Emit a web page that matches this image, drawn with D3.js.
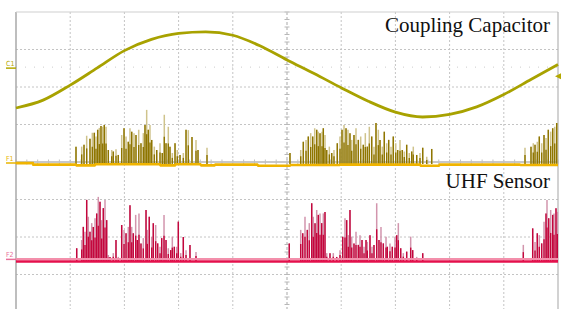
<!DOCTYPE html>
<html>
<head>
<meta charset="utf-8">
<script src="https://cdn.jsdelivr.net/npm/d3@7"></script>
<style>
  body { margin: 0; background: #fff; }
  svg { display: block; }
</style>
</head>
<body>
<div id="chart"></div>
<script>
// time axis in divisions (10 div across), voltage in divisions (8 div tall, 0 = centre)
const sineTime = [0, 0.5, 1, 1.5, 2, 2.5, 3, 3.5, 4, 4.5, 5, 5.5, 6, 6.5, 7, 7.5, 8, 8.5, 9, 9.5, 10];
const sineLevel = [1.44, 1.65, 2.05, 2.51, 2.97, 3.27, 3.43, 3.47, 3.38, 3.10, 2.72, 2.36, 1.98, 1.62, 1.33, 1.20, 1.27, 1.47, 1.80, 2.20, 2.60];

// F1 trace baseline (coupling capacitor PD channel)
const f1Baseline = [
    [0, -0.03], [0.31, -0.03], [0.32, -0.07], [1.1, -0.07], [1.12, -0.09], [1.45, -0.09], [1.47, -0.06],
    [2.65, -0.06], [2.67, -0.09], [2.93, -0.09], [2.95, -0.06], [3.4, -0.06], [3.42, -0.09], [3.66, -0.09],
    [3.68, -0.07], [4.45, -0.07], [4.47, -0.10], [5.05, -0.10], [5.07, -0.08], [5.97, -0.08], [5.99, -0.07],
    [7.45, -0.07], [7.47, -0.10], [7.8, -0.10], [7.82, -0.07], [9.29, -0.07], [9.31, -0.08], [10, -0.08]
];
const f1Level = -0.05;

// [time, amplitude] pulses on F1
const f1Pulses = [
    [1.107, 0.46], [1.212, 0.46], [1.255, 0.51], [1.304, 0.75], [1.365, 0.67], [1.408, 0.83], [1.445, 0.83],
    [1.476, 0.73], [1.507, 0.91], [1.537, 0.96], [1.568, 1.01], [1.600, 0.99], [1.629, 1.04], [1.661, 0.99],
    [1.703, 0.37], [1.766, 0.37], [1.795, 0.33], [1.845, 0.39], [1.887, 0.24], [1.950, 0.77], [1.993, 0.95],
    [2.030, 0.73], [2.072, 0.59], [2.103, 0.95], [2.135, 0.86], [2.177, 0.82], [2.214, 0.77], [2.264, 0.91],
    [2.306, 0.55], [2.349, 0.82], [2.380, 1.04], [2.411, 1.44], [2.441, 0.91], [2.472, 1.04], [2.504, 0.64],
    [2.552, 0.46], [2.596, 0.37], [2.657, 0.55], [2.699, 0.29], [2.736, 1.31], [2.768, 0.55], [2.810, 0.99],
    [2.841, 0.46], [2.884, 0.29], [2.934, 0.55], [2.976, 0.37], [3.026, 0.24], [3.087, 0.29], [3.137, 0.91],
    [3.179, 0.90], [3.247, 0.72], [3.321, 0.64], [3.358, 0.37], [3.524, 0.43],
    [5.055, 0.29], [5.253, 0.37], [5.301, 0.59], [5.351, 0.64], [5.393, 0.73], [5.437, 0.82], [5.474, 0.73],
    [5.511, 0.95], [5.548, 0.91], [5.578, 0.86], [5.609, 0.82], [5.646, 0.86], [5.670, 0.95], [5.701, 0.77],
    [5.733, 0.37], [5.781, 0.46], [5.825, 0.29], [5.867, 0.37], [5.928, 0.55], [5.978, 0.73], [6.015, 0.91],
    [6.052, 1.04], [6.089, 0.95], [6.125, 0.91], [6.162, 0.82], [6.194, 0.64], [6.236, 0.77], [6.273, 0.95],
    [6.316, 0.64], [6.360, 0.73], [6.408, 0.51], [6.445, 0.82], [6.482, 0.46], [6.519, 0.99], [6.563, 0.73],
    [6.605, 0.46], [6.642, 1.09], [6.685, 0.91], [6.716, 0.64], [6.758, 0.46], [6.795, 0.86], [6.839, 0.55],
    [6.876, 0.64], [6.919, 0.46], [6.961, 0.73], [7.006, 0.55], [7.042, 0.37], [7.085, 0.64], [7.127, 0.37],
    [7.164, 0.33], [7.208, 0.51], [7.256, 0.29], [7.301, 0.33], [7.330, 0.46], [7.393, 0.24], [7.454, 0.29],
    [7.504, 0.43], [7.578, 0.19], [7.670, 0.40],
    [9.391, 0.43], [9.502, 0.46], [9.544, 0.55], [9.576, 0.51], [9.618, 0.59], [9.655, 0.73], [9.699, 0.55],
    [9.742, 0.77], [9.779, 0.69], [9.821, 0.91], [9.865, 0.86], [9.902, 0.95], [9.939, 0.99], [9.976, 1.09]
];

// F2 trace (UHF sensor)
const f2Level = -2.64;
const f2Pulses = [
    [1.120, 0.34], [1.212, 0.56], [1.242, 0.91], [1.273, 0.78], [1.304, 1.63], [1.334, 1.18], [1.365, 0.78],
    [1.397, 1.01], [1.426, 0.91], [1.458, 1.14], [1.489, 1.27], [1.518, 1.71], [1.550, 1.58], [1.581, 1.09],
    [1.611, 1.41], [1.642, 1.63], [1.673, 1.09], [1.703, 0.16], [1.734, 0.11], [1.795, 0.21], [1.845, 0.56],
    [1.887, 0.11], [1.950, 0.96], [1.993, 0.83], [2.030, 0.74], [2.072, 0.91], [2.103, 1.49], [2.135, 0.91],
    [2.164, 0.74], [2.208, 1.23], [2.238, 0.56], [2.269, 1.27], [2.306, 0.47], [2.349, 0.61], [2.399, 1.36],
    [2.423, 0.83], [2.459, 1.18], [2.504, 0.65], [2.533, 1.01], [2.577, 0.96], [2.614, 0.47], [2.657, 0.38],
    [2.688, 0.61], [2.731, 1.23], [2.768, 0.56], [2.810, 0.34], [2.854, 0.29], [2.884, 0.65], [2.921, 0.38],
    [2.965, 0.38], [2.995, 1.05], [3.039, 0.21], [3.087, 0.64], [3.137, 0.29], [3.210, 0.43], [3.321, 0.24],
    [5.042, 0.47], [5.253, 0.83], [5.290, 0.74], [5.332, 1.18], [5.375, 0.83], [5.411, 1.01], [5.456, 1.54],
    [5.485, 1.18], [5.517, 1.01], [5.548, 1.36], [5.578, 1.23], [5.609, 1.27], [5.640, 1.01], [5.670, 1.27],
    [5.701, 1.31], [5.733, 0.21], [5.793, 0.21], [5.854, 0.21], [5.917, 0.11], [5.978, 0.29], [6.028, 0.65],
    [6.070, 1.14], [6.101, 1.09], [6.131, 0.69], [6.162, 1.36], [6.194, 0.65], [6.236, 0.47], [6.273, 0.78],
    [6.316, 0.43], [6.347, 0.69], [6.384, 0.56], [6.421, 0.38], [6.458, 0.56], [6.482, 0.51], [6.531, 0.69],
    [6.568, 0.38], [6.605, 0.43], [6.655, 1.54], [6.697, 0.56], [6.734, 0.91], [6.777, 0.47], [6.827, 0.65],
    [6.851, 0.38], [6.900, 0.47], [6.943, 0.38], [6.993, 0.65], [7.024, 0.69], [7.054, 1.01], [7.098, 0.34],
    [7.146, 0.21], [7.208, 0.25], [7.282, 0.65], [7.319, 0.29], [7.393, 0.11], [7.504, 0.21],
    [9.360, 0.43], [9.533, 0.87], [9.576, 0.51], [9.618, 0.74], [9.655, 0.69], [9.699, 0.47], [9.742, 1.05],
    [9.779, 1.27], [9.797, 1.63], [9.828, 1.14], [9.865, 1.36], [9.902, 1.23], [9.926, 1.27], [9.963, 1.41],
    [9.987, 1.31]
];

const channelLabels = [
    { name: "C1", level: 2.53, color: "#b4a800" },
    { name: "F1", level: 0.0, color: "#e8b400" },
    { name: "F2", level: -2.57, color: "#e8709a" }
];
const titles = [
    { text: "Coupling Capacitor", level: 3.47 },
    { text: "UHF Sensor", level: -0.69 }
];

const W = 562, H = 309;
const margin = { top: 12, left: 16 };
const plotW = 542, plotH = 300;

const svg = d3.select("#chart").append("svg")
    .attr("width", W)
    .attr("height", H);

const x = d3.scaleLinear().domain([0, 10]).range([margin.left, margin.left + plotW]);
const y = d3.scaleLinear().domain([-4, 4]).range([margin.top + plotH, margin.top]);

// grid
const grid = svg.append("g").attr("class", "grid");
grid.selectAll(".vg")
    .data(d3.range(1, 10).filter(d => d !== 5))
    .join("line")
    .attr("x1", d => x(d)).attr("x2", d => x(d))
    .attr("y1", y(4)).attr("y2", y(-4))
    .attr("stroke", "#c4c4c4")
    .attr("stroke-width", 1)
    .attr("stroke-dasharray", "2,2");
grid.selectAll(".hg")
    .data(d3.range(-3, 4).filter(d => d !== 0))
    .join("line")
    .attr("x1", x(0)).attr("x2", x(10))
    .attr("y1", d => y(d)).attr("y2", d => y(d))
    .attr("stroke", "#c4c4c4")
    .attr("stroke-width", 1)
    .attr("stroke-dasharray", "2,2");

// centre axes with minor ticks
grid.append("line")
    .attr("x1", x(5)).attr("x2", x(5))
    .attr("y1", y(4)).attr("y2", y(-4))
    .attr("stroke", "#b8b8b8")
    .attr("stroke-width", 1.2)
    .attr("stroke-dasharray", "3,2");
grid.selectAll(".vt")
    .data(d3.range(-4, 4.01, 0.2))
    .join("line")
    .attr("x1", x(5) - 2.5).attr("x2", x(5) + 2.5)
    .attr("y1", d => y(d)).attr("y2", d => y(d))
    .attr("stroke", "#b8b8b8");
grid.append("line")
    .attr("x1", x(0)).attr("x2", x(10))
    .attr("y1", y(0)).attr("y2", y(0))
    .attr("stroke", "#c8c8c8")
    .attr("stroke-width", 2);
grid.selectAll(".ht")
    .data(d3.range(0, 10.01, 0.2))
    .join("line")
    .attr("x1", d => x(d)).attr("x2", d => x(d))
    .attr("y1", y(0) - 2.5).attr("y2", y(0) + 2.5)
    .attr("stroke", "#c0c0c0");

// C1 level dotted line
grid.append("line")
    .attr("x1", x(0)).attr("x2", x(10))
    .attr("y1", y(2.53)).attr("y2", y(2.53))
    .attr("stroke", "#cccccc")
    .attr("stroke-dasharray", "1,8");

// frame
svg.append("line").attr("x1", x(0)).attr("x2", x(0)).attr("y1", y(4)).attr("y2", H)
    .attr("stroke", "#a8a8a8").attr("stroke-width", 1.5);
svg.append("line").attr("x1", x(0)).attr("x2", x(10)).attr("y1", y(4)).attr("y2", y(4))
    .attr("stroke", "#cfcfcf");
svg.append("line").attr("x1", x(10)).attr("x2", x(10)).attr("y1", y(4)).attr("y2", H)
    .attr("stroke", "#b4b4b4").attr("stroke-width", 1.2);

// pulses
function drawPulses(data, level, light, dark) {
    const g = svg.append("g");
    g.selectAll(".light")
        .data(data)
        .join("line")
        .attr("x1", d => x(d[0])).attr("x2", d => x(d[0]))
        .attr("y1", y(level)).attr("y2", d => y(level + d[1]))
        .attr("stroke", light)
        .attr("stroke-width", 1.5);
    g.selectAll(".dark")
        .data(data)
        .join("line")
        .attr("x1", d => x(d[0])).attr("x2", d => x(d[0]))
        .attr("y1", y(level)).attr("y2", (d, i) => y(level + (i % 2 === 0 ? d[1] : d[1] * 0.55)))
        .attr("stroke", dark)
        .attr("stroke-width", 1.4);
}

drawPulses(f1Pulses, f1Level, "#cfc38c", "#8e7500");
drawPulses(f2Pulses, f2Level, "#d295ad", "#c4063c");

// F1 baseline trace
svg.append("path")
    .datum(f1Baseline)
    .attr("fill", "none")
    .attr("stroke", "#f0b400")
    .attr("stroke-width", 2.6)
    .attr("d", d3.line().x(d => x(d[0])).y(d => y(d[1])));

// F2 baseline trace
svg.append("line")
    .attr("x1", x(0)).attr("x2", x(10))
    .attr("y1", y(f2Level) - 2).attr("y2", y(f2Level) - 2)
    .attr("stroke", "#f38fab").attr("stroke-width", 2);
svg.append("line")
    .attr("x1", x(0)).attr("x2", x(10))
    .attr("y1", y(f2Level) + 0.5).attr("y2", y(f2Level) + 0.5)
    .attr("stroke", "#e4104c").attr("stroke-width", 2.6);

// sine trace
svg.append("path")
    .datum(sineTime.map((t, i) => [t, sineLevel[i]]))
    .attr("fill", "none")
    .attr("stroke", "#a8a200")
    .attr("stroke-width", 2.8)
    .attr("d", d3.line().x(d => x(d[0])).y(d => y(d[1])).curve(d3.curveMonotoneX));

// channel markers on the left
const marks = svg.append("g");
channelLabels.forEach(c => {
    marks.append("text")
        .attr("x", 6).attr("y", y(c.level) - 1)
        .attr("font-family", "DejaVu Sans Condensed, DejaVu Sans")
        .attr("font-size", 7)
        .attr("fill", c.color)
        .text(c.name);
    marks.append("line")
        .attr("x1", 6).attr("x2", x(0))
        .attr("y1", y(c.level) + 1).attr("y2", y(c.level) + 1)
        .attr("stroke", c.color).attr("stroke-width", 1.5);
});

// trigger marker on right
svg.append("path")
    .attr("d", `M${x(10) - 3},${y(2.29)} L${x(10) + 3},${y(2.29) - 3} L${x(10) + 3},${y(2.29) + 3} Z`)
    .attr("fill", "#b4a800");

// titles
svg.selectAll(".title")
    .data(titles)
    .join("text")
    .attr("x", 550)
    .attr("y", d => y(d.level))
    .attr("text-anchor", "end")
    .attr("font-family", "Liberation Serif, Times New Roman, serif")
    .attr("font-size", 21)
    .attr("fill", "#111")
    .text(d => d.text);
</script>
</body>
</html>
